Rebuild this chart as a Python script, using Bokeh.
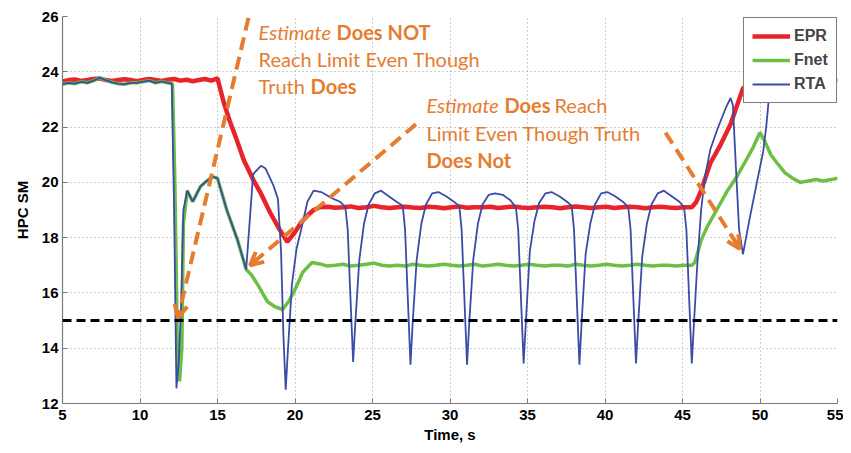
from bokeh.plotting import figure
from bokeh.models import Range1d, FixedTicker, Arrow, OpenHead, Legend, LegendItem, Span
from bokeh.embed import file_html
from bokeh.resources import INLINE
from bokeh.core.properties import value

# ---------------- data ----------------
x_ticks = [5, 10, 15, 20, 25, 30, 35, 40, 45, 50, 55]
y_ticks = [12, 14, 16, 18, 20, 22, 24, 26]
limit_value = 15

epr_t = [5.0, 5.4, 5.8, 6.2, 6.6, 7.0, 7.4, 7.8, 8.2, 8.6,
         9.0, 9.4, 9.8, 10.2, 10.6, 11.0, 11.4, 11.8, 12.2, 12.6,
         13.0, 13.4, 13.8, 14.2, 14.6, 15.0, 15.4, 15.8, 16.2, 16.7,
         17.3, 17.8, 18.4, 19.0, 19.5, 20.0, 20.4, 20.8, 21.2, 21.6,
         22.1, 22.6, 23.1, 23.6, 24.1, 24.6, 25.1, 25.6, 26.1, 26.6,
         27.1, 27.6, 28.1, 28.6, 29.1, 29.6, 30.1, 30.6, 31.1, 31.6,
         32.1, 32.6, 33.1, 33.6, 34.1, 34.6, 35.1, 35.6, 36.1, 36.6,
         37.1, 37.6, 38.1, 38.6, 39.1, 39.6, 40.1, 40.6, 41.1, 41.6,
         42.1, 42.6, 43.1, 43.6, 44.1, 44.6, 45.1, 45.6, 45.9, 46.2,
         46.8, 47.4, 48.1, 48.9, 49.5, 50.0, 51.0, 52.0, 53.0, 54.0,
         55.0]
epr_v = [23.65, 23.7, 23.72, 23.67, 23.7, 23.74, 23.76, 23.7, 23.67, 23.7,
         23.73, 23.7, 23.66, 23.7, 23.74, 23.7, 23.67, 23.71, 23.74, 23.68,
         23.71, 23.66, 23.7, 23.74, 23.68, 23.76, 22.9, 22.2, 21.6, 20.8,
         20.1, 19.6, 18.9, 18.3, 17.85, 18.2, 18.55, 18.8, 19.0, 19.1,
         19.12, 19.08, 19.1, 19.13, 19.07, 19.1, 19.15, 19.1, 19.07, 19.1,
         19.12, 19.09, 19.07, 19.12, 19.1, 19.06, 19.1, 19.13, 19.08, 19.1,
         19.1, 19.12, 19.07, 19.1, 19.13, 19.09, 19.07, 19.1, 19.12, 19.1,
         19.06, 19.1, 19.13, 19.1, 19.07, 19.1, 19.12, 19.07, 19.1, 19.12,
         19.1, 19.06, 19.1, 19.12, 19.09, 19.07, 19.1, 19.1, 19.3, 19.7,
         20.7, 21.3, 22.1, 23.4, 23.7, 23.75, 23.7, 23.75, 23.7, 23.65,
         23.7]

fnet_t = [5.0, 5.4, 5.8, 6.2, 6.6, 7.0, 7.4, 7.8, 8.2, 8.6,
          9.0, 9.4, 9.8, 10.2, 10.6, 11.0, 11.4, 11.8, 12.1, 12.25,
          12.4, 12.55, 12.7, 12.8, 13.05, 13.4, 13.9, 14.3, 14.7, 15.0,
          15.6, 16.3, 16.85, 17.2, 17.7, 18.2, 18.7, 19.2, 19.6, 19.9,
          20.5, 21.1, 21.6, 22.1, 22.6, 23.1, 23.6, 24.1, 24.6, 25.1,
          25.6, 26.1, 26.6, 27.1, 27.6, 28.1, 28.6, 29.1, 29.6, 30.1,
          30.6, 31.1, 31.6, 32.1, 32.6, 33.1, 33.6, 34.1, 34.6, 35.1,
          35.6, 36.1, 36.6, 37.1, 37.6, 38.1, 38.6, 39.1, 39.6, 40.1,
          40.6, 41.1, 41.6, 42.1, 42.6, 43.1, 43.6, 44.1, 44.6, 45.1,
          45.6, 45.8, 46.2, 46.6, 47.3, 47.9, 48.5, 49.0, 49.5, 50.0,
          50.3, 50.7, 51.1, 51.6, 52.1, 52.6, 53.1, 53.6, 54.1, 54.6,
          55.0]
fnet_v = [23.55, 23.6, 23.57, 23.64, 23.6, 23.68, 23.78, 23.7, 23.62, 23.57,
          23.55, 23.6, 23.6, 23.64, 23.68, 23.6, 23.65, 23.6, 23.57, 20.0,
          14.5, 12.8, 14.0, 18.5, 19.7, 19.3, 19.85, 20.05, 20.2, 20.15,
          19.0, 17.9, 16.85, 16.65, 16.2, 15.7, 15.5, 15.4, 15.7, 16.0,
          16.75, 17.1, 17.05, 16.97, 17.0, 17.04, 16.97, 17.0, 17.04, 17.08,
          17.0, 16.97, 17.0, 16.97, 17.04, 17.0, 16.97, 17.0, 17.04, 17.0,
          16.97, 17.0, 17.04, 16.97, 17.0, 17.04, 17.0, 16.97, 17.0, 17.04,
          17.0, 16.97, 17.0, 17.0, 16.97, 17.04, 17.0, 16.97, 17.0, 17.04,
          17.0, 16.97, 17.0, 17.04, 17.0, 16.97, 17.0, 17.0, 16.97, 17.0,
          17.0, 17.1, 17.9, 18.4, 19.1, 19.7, 20.2, 20.7, 21.2, 21.8,
          21.5, 21.0, 20.7, 20.35, 20.15, 20.0, 20.05, 20.1, 20.05, 20.1,
          20.15]

rta_t = [5.0, 5.4, 5.8, 6.2, 6.6, 7.0, 7.4, 7.8, 8.2, 8.6,
         9.0, 9.4, 9.8, 10.2, 10.6, 11.0, 11.4, 11.8, 12.05, 12.2,
         12.35, 12.5, 12.65, 12.8, 13.05, 13.4, 13.9, 14.3, 14.7, 15.0,
         15.6, 16.3, 16.85, 17.3, 17.8, 18.1, 18.6, 18.9, 19.1, 19.25,
         19.4, 19.55, 19.8, 20.1, 20.4, 20.8, 21.2, 21.7, 22.3, 22.9,
         23.25, 23.4, 23.55, 23.75, 23.9, 24.15, 24.45, 24.75, 25.15, 25.55,
         26.05, 26.55, 26.95, 27.1, 27.25, 27.45, 27.6, 27.85, 28.15, 28.45,
         28.85, 29.25, 29.75, 30.25, 30.6, 30.75, 30.9, 31.1, 31.25, 31.5,
         31.8, 32.1, 32.5, 32.9, 33.4, 33.9, 34.25, 34.4, 34.55, 34.75,
         34.9, 35.15, 35.45, 35.75, 36.15, 36.55, 37.05, 37.55, 37.85, 38.0,
         38.15, 38.35, 38.5, 38.75, 39.05, 39.35, 39.75, 40.15, 40.65, 41.15,
         41.5, 41.65, 41.8, 42.0, 42.15, 42.4, 42.7, 43.0, 43.4, 43.8,
         44.3, 44.8, 45.1, 45.25, 45.4, 45.6, 45.75, 45.95, 46.2, 46.45,
         46.8, 47.3, 47.8, 48.1, 48.25, 48.45, 48.65, 48.9, 49.3, 49.8,
         50.2, 50.4, 50.6, 50.9, 51.5, 52.5, 53.5, 54.5, 55.0]
rta_v = [23.55, 23.6, 23.57, 23.64, 23.6, 23.68, 23.78, 23.7, 23.62, 23.57,
         23.55, 23.6, 23.6, 23.64, 23.68, 23.6, 23.65, 23.6, 23.57, 19.0,
         12.55, 13.5, 15.5, 19.0, 19.7, 19.3, 19.85, 20.05, 20.2, 20.15,
         19.0, 17.9, 16.85, 20.3, 20.6, 20.5, 19.9, 19.4, 17.5, 14.5,
         12.5, 14.0, 16.3, 17.6, 18.3, 19.3, 19.7, 19.65, 19.45, 19.3,
         19.1, 18.3, 16.2, 13.5, 15.0, 17.2, 18.5, 19.2, 19.6, 19.7,
         19.5, 19.3, 19.15, 18.3, 16.2, 13.4, 15.0, 17.2, 18.5, 19.2,
         19.6, 19.65, 19.5, 19.3, 19.15, 18.3, 16.2, 13.4, 15.0, 17.2,
         18.5, 19.2, 19.55, 19.6, 19.55, 19.35, 19.1, 18.3, 16.2, 13.45,
         15.0, 17.5, 18.6, 19.25, 19.6, 19.65, 19.5, 19.3, 19.15, 18.3,
         16.2, 13.4, 15.0, 17.4, 18.5, 19.2, 19.6, 19.65, 19.5, 19.3,
         19.1, 18.3, 16.2, 13.45, 15.0, 17.3, 18.5, 19.2, 19.6, 19.7,
         19.5, 19.3, 19.1, 18.3, 16.2, 13.45, 15.0, 17.0, 19.0, 20.2,
         21.2, 22.0, 22.7, 23.05, 22.8, 20.5, 18.3, 17.4, 18.6, 20.0,
         21.1, 22.0, 23.2, 23.6, 23.7, 23.65, 23.7, 23.75, 23.7]

legend_labels = ["EPR", "Fnet", "RTA"]

# annotation text (anchor in data units) and arrows (start -> end, data units)
note1_x, note1_y = 17.65, [25.45, 24.45, 23.47]
note2_x, note2_y = 28.48, [22.79, 21.78, 20.81]
arrow_x0 = [17.0, 27.8, 43.9]
arrow_y0 = [25.95, 22.1, 21.8]
arrow_x1 = [12.45, 17.1, 48.7]
arrow_y1 = [15.1, 17.0, 17.6]

# ---------------- styling ----------------
RED = "#e8232b"
GREEN = "#6cbf45"
BLUE = "#3b4ca6"
ORANGE = "#e57c2f"
AXIS = "#7a7a7a"
FONT = "Liberation Sans"
NFONT = "Lato"

p = figure(width=843, height=445,
           x_range=Range1d(5, 55), y_range=Range1d(12, 26),
           output_backend="svg", toolbar_location=None,
           min_border_left=62, min_border_right=6,
           min_border_top=16, min_border_bottom=40)
p.outline_line_color = None
p.background_fill_color = "white"

for ax in (p.xaxis, p.yaxis):
    ax.axis_line_color = AXIS
    ax.axis_line_width = 1.2
    ax.major_tick_line_color = AXIS
    ax.major_tick_in = 5
    ax.major_tick_out = 0
    ax.minor_tick_in = 0
    ax.minor_tick_out = 0
    ax.major_label_text_font = FONT
    ax.major_label_text_font_style = "bold"
    ax.major_label_text_font_size = "15px"
    ax.major_label_text_color = "black"
    ax.axis_label_text_font = FONT
    ax.axis_label_text_font_style = "bold"
    ax.axis_label_text_font_size = "15px"
    ax.axis_label_text_color = "black"

p.xaxis.ticker = FixedTicker(ticks=x_ticks)
p.yaxis.ticker = FixedTicker(ticks=y_ticks)
p.xaxis.axis_label = "Time, s"
p.yaxis.axis_label = "HPC SM"
p.xaxis.major_label_standoff = 6
p.xaxis.axis_label_standoff = 3
p.yaxis.major_label_standoff = 4
p.yaxis.axis_label_standoff = 8

for g in (p.xgrid, p.ygrid):
    g.grid_line_color = "#9a9a9a"
    g.grid_line_dash = "1 3"
    g.grid_line_width = 1
p.xgrid.ticker = FixedTicker(ticks=x_ticks)
p.ygrid.ticker = FixedTicker(ticks=y_ticks)

r_epr = p.line(epr_t, epr_v, line_color=RED, line_width=4.5)
r_fnet = p.line(fnet_t, fnet_v, line_color=GREEN, line_width=3.5)
r_rta = p.line(rta_t, rta_v, line_color=BLUE, line_width=1.8)

p.add_layout(Span(location=limit_value, dimension="width", line_color="black",
                  line_width=3, line_dash="9 5"))

for xs, ys, xe, ye in zip(arrow_x0, arrow_y0, arrow_x1, arrow_y1):
    p.add_layout(Arrow(end=OpenHead(size=13, line_color=ORANGE, line_width=4),
                       x_start=xs, y_start=ys, x_end=xe, y_end=ye,
                       line_color=ORANGE, line_width=4, line_dash="13 7"))

def txt(x, y, s, style, dx):
    p.text(x=[x], y=[y], text=[s], text_color=ORANGE, text_font=value(NFONT),
           text_font_size="20px", text_font_style=style, text_baseline="middle",
           text_align="left", x_offset=dx)

# note 1
txt(note1_x, note1_y[0], "Estimate", "italic", 0)
txt(note1_x, note1_y[0], "Does NOT", "bold", 78)
txt(note1_x, note1_y[1], "Reach Limit Even Though", "normal", 0)
txt(note1_x, note1_y[2], "Truth", "normal", 0)
txt(note1_x, note1_y[2], "Does", "bold", 52)
# note 2
txt(note2_x, note2_y[0], "Estimate", "italic", 0)
txt(note2_x, note2_y[0], "Does", "bold", 78)
txt(note2_x, note2_y[0], "Reach", "normal", 128)
txt(note2_x, note2_y[1], "Limit Even Though Truth", "normal", 0)
txt(note2_x, note2_y[2], "Does Not", "bold", 0)

legend = Legend(items=[LegendItem(label=legend_labels[0], renderers=[r_epr]),
                       LegendItem(label=legend_labels[1], renderers=[r_fnet]),
                       LegendItem(label=legend_labels[2], renderers=[r_rta])],
                location=(681, 300), margin=0)
legend.border_line_color = "black"
legend.border_line_width = 1
legend.background_fill_color = "white"
legend.background_fill_alpha = 1
legend.label_text_font = FONT
legend.label_text_font_style = "bold"
legend.label_text_font_size = "16px"
legend.glyph_width = 38
legend.glyph_height = 20
legend.label_height = 20
legend.spacing = 4
legend.padding = 8
legend.label_standoff = 4
p.add_layout(legend)

open("out.html", "w").write(file_html(p, INLINE))
